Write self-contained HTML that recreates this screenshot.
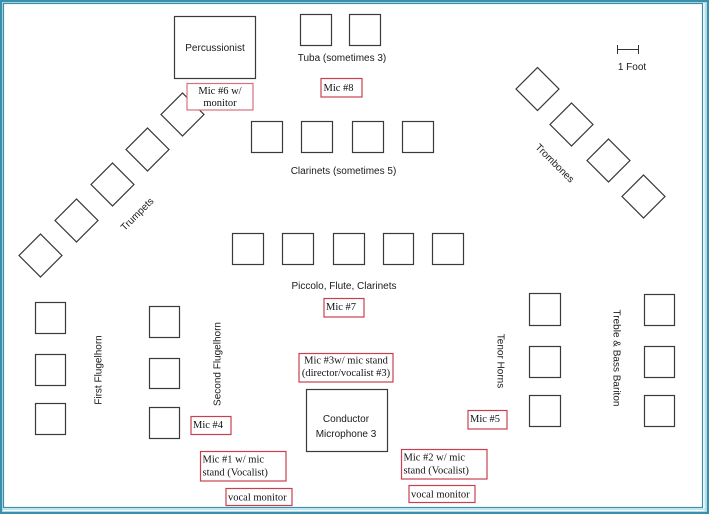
<!DOCTYPE html>
<html><head><meta charset="utf-8"><style>
html,body{margin:0;padding:0;background:#fff;}
svg{display:block;}
.s{fill:#fff;stroke:#3a3a3a;stroke-width:1.2;}
.t{font-family:"Liberation Sans",Arial,sans-serif;font-size:10px;fill:#1a1a1a;}
.m{font-family:"Liberation Serif","Times New Roman",serif;font-size:10.5px;fill:#111;}
.r{fill:#fff;stroke:#c8404f;stroke-width:1.2;}
</style></head><body>
<svg width="709" height="514" viewBox="0 0 709 514" xmlns="http://www.w3.org/2000/svg">
<rect x="0" y="0" width="709" height="514" fill="#fff"/>
<!-- border -->
<rect x="1" y="1" width="707" height="512" fill="none" stroke="#3d8ea8" stroke-width="2"/>
<rect x="2.5" y="2.5" width="704" height="509" fill="none" stroke="#a9dbe6" stroke-width="1"/>
<rect x="3.5" y="3.5" width="699" height="504" fill="none" stroke="#3d8ea8" stroke-width="1.2"/>
<rect x="704.5" y="3" width="1.5" height="508" fill="#b8e2ec"/>
<rect x="3" y="508.5" width="703" height="1.5" fill="#b8e2ec"/>

<!-- Percussionist -->
<rect class="s" x="174.5" y="16.5" width="81" height="62"/>
<text class="t" x="215" y="51" text-anchor="middle">Percussionist</text>

<!-- Tuba -->
<rect class="s" x="300.5" y="14.5" width="31" height="31"/>
<rect class="s" x="349.5" y="14.5" width="31" height="31"/>
<text class="t" x="342" y="61" text-anchor="middle">Tuba (sometimes 3)</text>

<!-- Mic 8 -->
<rect class="r" x="321" y="78.5" width="41" height="18.5"/>
<text class="m" x="323.5" y="91">Mic #8</text>

<!-- Trumpets diamonds -->
<rect class="s" x="-15.2" y="-15.2" width="30.4" height="30.4" transform="translate(182.5,114.5) rotate(45)"/>
<rect class="s" x="-15.2" y="-15.2" width="30.4" height="30.4" transform="translate(147.5,149.5) rotate(45)"/>
<rect class="s" x="-15.2" y="-15.2" width="30.4" height="30.4" transform="translate(112.5,184.5) rotate(45)"/>
<rect class="s" x="-15.2" y="-15.2" width="30.4" height="30.4" transform="translate(76.5,220.5) rotate(45)"/>
<rect class="s" x="-15.2" y="-15.2" width="30.4" height="30.4" transform="translate(40.5,255.5) rotate(45)"/>
<text class="t" x="0" y="3.5" text-anchor="middle" transform="translate(137,214) rotate(-45)">Trumpets</text>

<!-- Mic 6 (over diamond) -->
<rect class="r" x="187" y="83.5" width="66" height="26.5" style="stroke:#d9707f"/>
<text class="m" x="220" y="94" text-anchor="middle">Mic #6 w/</text>
<text class="m" x="220" y="106" text-anchor="middle">monitor</text>

<!-- Trombones diamonds -->
<rect class="s" x="-15.2" y="-15.2" width="30.4" height="30.4" transform="translate(537.5,89) rotate(45)"/>
<rect class="s" x="-15.2" y="-15.2" width="30.4" height="30.4" transform="translate(571.5,124.5) rotate(45)"/>
<rect class="s" x="-15.2" y="-15.2" width="30.4" height="30.4" transform="translate(608.5,160.5) rotate(45)"/>
<rect class="s" x="-15.2" y="-15.2" width="30.4" height="30.4" transform="translate(643.5,196.5) rotate(45)"/>
<text class="t" x="0" y="3.5" text-anchor="middle" transform="translate(555,163) rotate(45)">Trombones</text>

<!-- 1 Foot scale -->
<line x1="617" y1="49.5" x2="638" y2="49.5" stroke="#333" stroke-width="1"/>
<line x1="617.5" y1="45" x2="617.5" y2="54" stroke="#333" stroke-width="1"/>
<line x1="638.5" y1="45" x2="638.5" y2="54" stroke="#333" stroke-width="1"/>
<text class="t" x="632" y="70" text-anchor="middle">1 Foot</text>

<!-- Clarinets -->
<rect class="s" x="251.5" y="121.5" width="31" height="31"/>
<rect class="s" x="301.5" y="121.5" width="31" height="31"/>
<rect class="s" x="352.5" y="121.5" width="31" height="31"/>
<rect class="s" x="402.5" y="121.5" width="31" height="31"/>
<text class="t" x="343.5" y="174" text-anchor="middle">Clarinets (sometimes 5)</text>

<!-- Piccolo row -->
<rect class="s" x="232.5" y="233.5" width="31" height="31"/>
<rect class="s" x="282.5" y="233.5" width="31" height="31"/>
<rect class="s" x="333.5" y="233.5" width="31" height="31"/>
<rect class="s" x="383.5" y="233.5" width="30" height="31"/>
<rect class="s" x="432.5" y="233.5" width="31" height="31"/>
<text class="t" x="344" y="289" text-anchor="middle">Piccolo, Flute, Clarinets</text>

<!-- Mic 7 -->
<rect class="r" x="324" y="298.5" width="40" height="18.5"/>
<text class="m" x="326" y="310">Mic #7</text>

<!-- First Flugelhorn -->
<rect class="s" x="35.5" y="302.5" width="30" height="31"/>
<rect class="s" x="35.5" y="354.5" width="30" height="31"/>
<rect class="s" x="35.5" y="403.5" width="30" height="31"/>
<text class="t" x="0" y="3.5" text-anchor="middle" transform="translate(98,370) rotate(-90)">First Flugelhorn</text>

<!-- Second Flugelhorn -->
<rect class="s" x="149.5" y="306.5" width="30" height="31"/>
<rect class="s" x="149.5" y="358.5" width="30" height="30"/>
<rect class="s" x="149.5" y="407.5" width="30" height="31"/>
<text class="t" x="0" y="3.5" text-anchor="middle" transform="translate(217,364) rotate(-90)">Second Flugelhorn</text>

<!-- Mic 3 -->
<rect class="r" x="299" y="353.5" width="94" height="28.5"/>
<text class="m" x="346" y="363.5" text-anchor="middle">Mic #3w/ mic stand</text>
<text class="m" x="346" y="376" text-anchor="middle">(director/vocalist #3)</text>

<!-- Conductor -->
<rect class="s" x="306.5" y="389.5" width="81" height="62"/>
<text class="t" x="346" y="422" text-anchor="middle">Conductor</text>
<text class="t" x="346" y="437" text-anchor="middle">Microphone 3</text>

<!-- Mic 4 -->
<rect class="r" x="191" y="416.5" width="40" height="18"/>
<text class="m" x="193" y="428">Mic #4</text>

<!-- Mic 1 -->
<rect class="r" x="200.5" y="451.5" width="85.5" height="29.5"/>
<text class="m" x="202.5" y="462.5">Mic #1 w/ mic</text>
<text class="m" x="202.5" y="475.5">stand (Vocalist)</text>

<!-- vocal monitor 1 -->
<rect class="r" x="226" y="488.5" width="66" height="17"/>
<text class="m" x="228" y="500.5">vocal monitor</text>

<!-- Tenor Horns -->
<rect class="s" x="529.5" y="293.5" width="31" height="32"/>
<rect class="s" x="529.5" y="346.5" width="31" height="31"/>
<rect class="s" x="529.5" y="395.5" width="31" height="31"/>
<text class="t" x="0" y="3.5" text-anchor="middle" transform="translate(501,361) rotate(90)">Tenor Horns</text>

<!-- Treble & Bass Bariton -->
<rect class="s" x="644.5" y="294.5" width="30" height="31"/>
<rect class="s" x="644.5" y="346.5" width="30" height="31"/>
<rect class="s" x="644.5" y="395.5" width="30" height="31"/>
<text class="t" x="0" y="3.5" text-anchor="middle" transform="translate(617,358) rotate(90)">Treble &amp; Bass Bariton</text>

<!-- Mic 5 -->
<rect class="r" x="468" y="410.5" width="39" height="18.5"/>
<text class="m" x="470" y="422">Mic #5</text>

<!-- Mic 2 -->
<rect class="r" x="401.5" y="449.5" width="85.5" height="29.5"/>
<text class="m" x="403.5" y="460.5">Mic #2 w/ mic</text>
<text class="m" x="403.5" y="473.5">stand (Vocalist)</text>

<!-- vocal monitor 2 -->
<rect class="r" x="409" y="485.5" width="66" height="17"/>
<text class="m" x="411" y="497.5">vocal monitor</text>
</svg>
</body></html>
